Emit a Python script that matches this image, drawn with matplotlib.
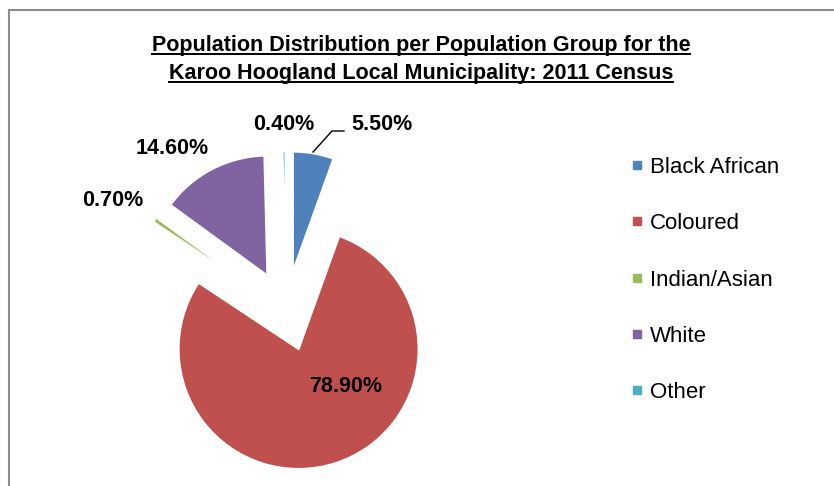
import matplotlib
matplotlib.use("Agg")
import matplotlib.pyplot as plt
from matplotlib.lines import Line2D
import numpy as np

plt.rcParams['font.family'] = ['Liberation Sans', 'DejaVu Sans']

categories = ["Black African", "Coloured", "Indian/Asian", "White", "Other"]
values = [5.5, 78.9, 0.7, 14.6, 0.4]
value_labels = ["5.50%", "78.90%", "0.70%", "14.60%", "0.40%"]
colors = ["#4F81BD", "#C0504D", "#9BBB59", "#8064A2", "#4BACC6"]

W, H = 834, 486
fig = plt.figure(figsize=(W / 100, H / 100), dpi=100)
ax = fig.add_axes([0, 0, 1, 1])

# frame (cropped at right / bottom)
fig.add_artist(Line2D([9 / W, 9 / W], [0, 1 - 10 / H], transform=fig.transFigure, color="#8c8c8c", lw=1.5))
fig.add_artist(Line2D([9 / W, 1], [1 - 10 / H, 1 - 10 / H], transform=fig.transFigure, color="#8c8c8c", lw=1.5))

cx, cy, R = 286, H - 311, 120
wedges, _ = ax.pie(values, colors=colors, startangle=90, counterclock=False,
                   radius=R, center=(cx, cy), explode=[40] * 5,
                   wedgeprops=dict(edgecolor="white", linewidth=1.5),
                   frame=True)
ax.set_xlim(0, W)
ax.set_ylim(0, H)
ax.set_aspect('equal')
ax.axis('off')

# data labels
lab_pos = {0: (382, 125), 1: (346, 386), 2: (113, 200), 3: (172, 148), 4: (284, 124)}
for i, lab in enumerate(value_labels):
    x, y = lab_pos[i]
    ax.text(x, H - y, lab, ha='center', va='center', fontsize=15.5, fontweight='bold', color='black')
# leader line for Black African
ax.plot([313, 332, 344], [H - 152, H - 131, H - 131], color='black', lw=1)

# title
fig.text(421 / W, 1 - 46 / H, "Population Distribution per Population Group for the",
         ha='center', va='center', fontsize=15.5, fontweight='bold')
fig.text(421 / W, 1 - 74 / H, "Karoo Hoogland Local Municipality: 2011 Census",
         ha='center', va='center', fontsize=15.5, fontweight='bold')
fig.canvas.draw()
r = fig.canvas.get_renderer()
for t in fig.texts:
    bb = t.get_window_extent(r)
    fig.add_artist(Line2D([bb.x0 / W, bb.x1 / W], [(bb.y0 + 2) / H, (bb.y0 + 2) / H],
                          transform=fig.transFigure, color='black', lw=1.4))

# legend
handles = [Line2D([], [], marker='s', linestyle='none', markersize=6,
                  markerfacecolor=c, markeredgecolor=c) for c in colors]
leg = fig.legend(handles, categories, loc='upper left', bbox_to_anchor=(621 / W, 1 - 148 / H),
                 frameon=False, fontsize=16, labelspacing=1.59, handlelength=0.6,
                 handletextpad=0.3, borderaxespad=0)

fig.savefig("out.png", dpi=100)
